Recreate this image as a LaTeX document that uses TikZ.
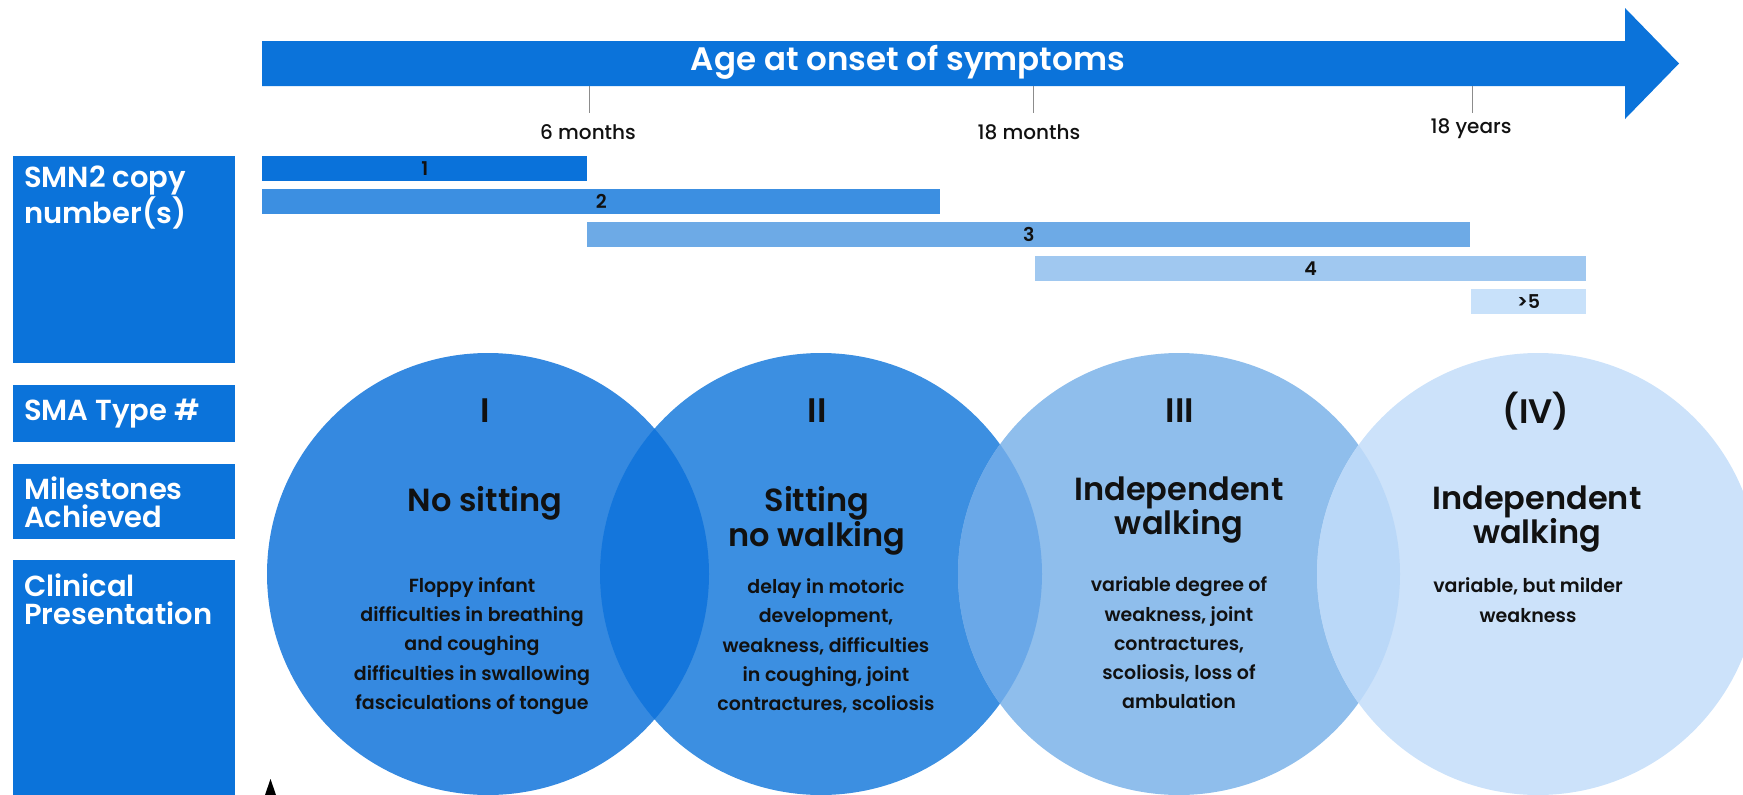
\documentclass[tikz,border=0pt]{standalone}
\usepackage{fontspec}
\setmainfont{Poppins}
\newfontfamily\popmed{Poppins Medium}
\newfontfamily\popsemi{Poppins SemiBold}
\definecolor{hdrblue}{HTML}{0B73DA}
\definecolor{barI}{HTML}{0A72DA}
\definecolor{barII}{HTML}{3C8FE1}
\definecolor{barIII}{HTML}{6DAAE6}
\definecolor{barIV}{HTML}{A0C8F0}
\definecolor{barV}{HTML}{C8E1FA}
\definecolor{circI}{HTML}{3589E0}
\definecolor{circII}{HTML}{3C8FE1}
\definecolor{circIII}{HTML}{8FBEEC}
\definecolor{circIV}{HTML}{CCE2FA}
\definecolor{lensI}{HTML}{1476DC}
\definecolor{lensII}{HTML}{6AA8E8}
\definecolor{lensIII}{HTML}{BAD8F8}
\definecolor{tickgray}{HTML}{8C8C8C}
\definecolor{ink}{HTML}{111111}
\definecolor{pin}{HTML}{237F93}
\tikzset{
  rowbox/.style={fill=hdrblue,anchor=north west,minimum width=222pt,inner sep=0pt},
  rowtext/.style={text=white,anchor=north west,align=left,inner sep=0pt,
    font=\popsemi\fontsize{29}{28}\selectfont},
  bar/.style={anchor=north west,minimum height=25pt,inner sep=0pt,text=ink,
    font=\popsemi\fontsize{19}{19}\selectfont},
  ticklabel/.style={text=ink,font=\popmed\fontsize{20}{20}\selectfont},
  numeral/.style={text=ink,font=\popsemi\fontsize{34}{34}\selectfont},
  milestone/.style={text=ink,align=center,font=\popsemi\fontsize{32}{31}\selectfont},
  clinical/.style={text=ink,align=center,font=\popsemi\fontsize{19}{29.3}\selectfont},
}
\begin{document}
\begin{tikzpicture}[x=1pt,y=-1pt]
\useasboundingbox (0,0) rectangle (1743,795);
\coordinate (C1) at (488,574);
\coordinate (C2) at (821,574);
\coordinate (C3) at (1179,574);
\coordinate (C4) at (1538,574);
\coordinate (A0) at (262,41);
\coordinate (A1) at (1625,41);
\coordinate (A2) at (1625,8);
\coordinate (A3) at (1679,63.5);
\coordinate (A4) at (1625,119);
\coordinate (A5) at (1625,86);
\coordinate (A6) at (262,86);
\coordinate (T1) at (589,86);
\coordinate (T2) at (1033,86);
\coordinate (T3) at (1472,86);
\fill[hdrblue] (A0) -- (A1) -- (A2) -- (A3) -- (A4) -- (A5) -- (A6) -- cycle;
\node[text=white,font=\popsemi\fontsize{32.5}{33}\selectfont] (age) at (908,62) {Age at onset of symptoms};
\draw[tickgray,line width=1pt] (T1) -- ++(0,27) coordinate (T1e);
\draw[tickgray,line width=1pt] (T2) -- ++(0,27) coordinate (T2e);
\draw[tickgray,line width=1pt] (T3) -- ++(0,27) coordinate (T3e);
\node[ticklabel] (m6) at (588,132) {6 months};
\node[ticklabel] (m18) at (1029,132) {18 months};
\node[ticklabel] (y18) at (1471,129) {18 years};
\node[rowbox,minimum height=207pt] (smn) at (13,156) {};
\node[rowbox,minimum height=57pt] (type) at (13,385) {};
\node[rowbox,minimum height=75pt] (miles) at (13,464) {};
\node[rowbox,minimum height=235pt] (clin) at (13,560) {};
\node[rowtext] at ([shift={(11pt,-10pt)}]smn.north west) {SMN2 copy\\number(s)};
\node[rowtext,anchor=west] at ([xshift=11pt]type.west) {SMA Type \#};
\node[rowtext,anchor=west] at ([shift={(11pt,-1pt)}]miles.west) {Milestones\\Achieved};
\node[rowtext] at ([shift={(11pt,-14pt)}]clin.north west) {Clinical\\Presentation};
\node[bar,fill=barI,minimum width=325pt] (b1) at (262,156) {1};
\node[bar,fill=barII,minimum width=678pt] (b2) at (262,189) {2};
\node[bar,fill=barIII,minimum width=883pt] (b3) at (587,222) {3};
\node[bar,fill=barIV,minimum width=551pt] (b4) at (1035,256) {4};
\node[bar,fill=barV,minimum width=115pt] (b5) at (1471,289) {>5};
\fill[circI] (C1) circle[radius=221pt];
\fill[circII] (C2) circle[radius=221pt];
\fill[circIII] (C3) circle[radius=221pt];
\fill[circIV] (C4) circle[radius=221pt];
\begin{scope}
\clip (C1) circle[radius=221pt];
\fill[lensI] (C2) circle[radius=221pt];
\end{scope}
\begin{scope}
\clip (C2) circle[radius=221pt];
\fill[lensII] (C3) circle[radius=221pt];
\end{scope}
\begin{scope}
\clip (C3) circle[radius=221pt];
\fill[lensIII] (C4) circle[radius=221pt];
\end{scope}
\fill[pin] (265,795) -- (270.5,779) -- (276,795) -- cycle;
\node[numeral] (n1) at (485,411) {I};
\node[numeral] (n2) at (817,411) {II};
\node[numeral] (n3) at (1180,411) {III};
\node[numeral] (n4) at (1536,411) {(IV)};
\node[milestone] (s1) at (485,503) {No sitting};
\node[milestone] (s2) at (817,521) {Sitting\\no walking};
\node[milestone] (s3) at (1179,510) {Independent\\walking};
\node[milestone] (s4) at (1537,519) {Independent\\walking};
\node[clinical] (p1) at (472,646) {Floppy infant\\difficulties in breathing\\and coughing\\difficulties in swallowing\\fasciculations of tongue};
\node[clinical] (p2) at (826,646) {delay in motoric\\development,\\weakness, difficulties\\in coughing, joint\\contractures, scoliosis};
\node[clinical] (p3) at (1179,643) {variable degree of\\weakness, joint\\contractures,\\scoliosis, loss of\\ambulation};
\node[clinical] (p4) at (1528,600) {variable, but milder\\weakness};
\end{tikzpicture}
\end{document}
